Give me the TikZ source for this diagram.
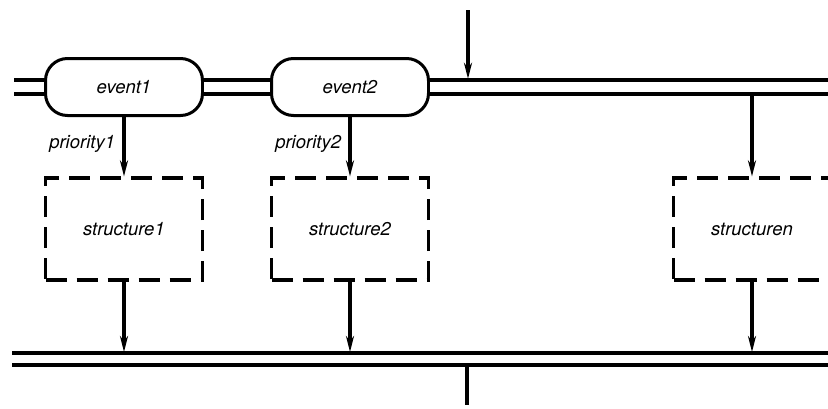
\documentclass[tikz,border=0pt]{standalone}
\usepackage{fontspec}
\newfontfamily\heros{TeX Gyre Heros}
\usetikzlibrary{arrows.meta,positioning}

\begin{document}
\begin{tikzpicture}[x=1pt,y=-1pt,
  txt/.style={font=\heros\itshape\fontsize{18.5}{22}\selectfont},
  bus/.style={line width=3.2pt,double,double distance=10.8pt},
  lowbus/.style={line width=3.2pt,double,double distance=8.8pt},
  evbox/.style={draw,txt,line width=3pt,rounded corners=22pt,minimum width=157pt,minimum height=57pt},
  stbox/.style={draw,txt,line width=3.2pt,dash pattern=on 21pt off 10pt,minimum width=157pt,minimum height=102pt},
  flow/.style={line width=3.2pt,-{Stealth[length=16pt,width=8pt]}}]
  \clip (0,0) rectangle (828,408);
  % event queue
  \node[evbox] (ev1) at (124,87) {event1};
  \node[evbox] (ev2) at (350,87) {event2};
  \coordinate (qin) at (14,87);
  \coordinate (qend) at (840,87);
  \draw[bus] (qin) -- (ev1.west);
  \draw[bus] (ev1.east) -- (ev2.west);
  \draw[bus] (ev2.east) -- (qend);
  \coordinate (src) at (468,10);
  \coordinate (qtop) at (468,78.8);
  \draw[flow] (src) -- (qtop);
  % structures
  \node[stbox] (st1) at (124,229) {structure1};
  \node[stbox] (st2) at (350,229) {structure2};
  \node[stbox] (stn) at (752,229) {structuren};
  \draw[flow] (ev1) -- node[txt,left=4pt,pos=0.45] {priority1} (st1);
  \draw[flow] (ev2) -- node[txt,left=4pt,pos=0.45] {priority2} (st2);
  \coordinate (qbot) at (752,95.2);
  \draw[flow] (qbot) -- (stn);
  % output bus
  \coordinate (bin) at (12,359);
  \coordinate (bend) at (840,359);
  \draw[lowbus] (bin) -- (bend);
  \coordinate (btop) at (12,352);
  \foreach \s in {st1,st2,stn} \draw[flow] (\s) -- (\s |- btop);
  \coordinate (bout) at (467,366);
  \coordinate (sink) at (467,405);
  \draw[line width=3.2pt] (bout) -- (sink);
\end{tikzpicture}
\end{document}
